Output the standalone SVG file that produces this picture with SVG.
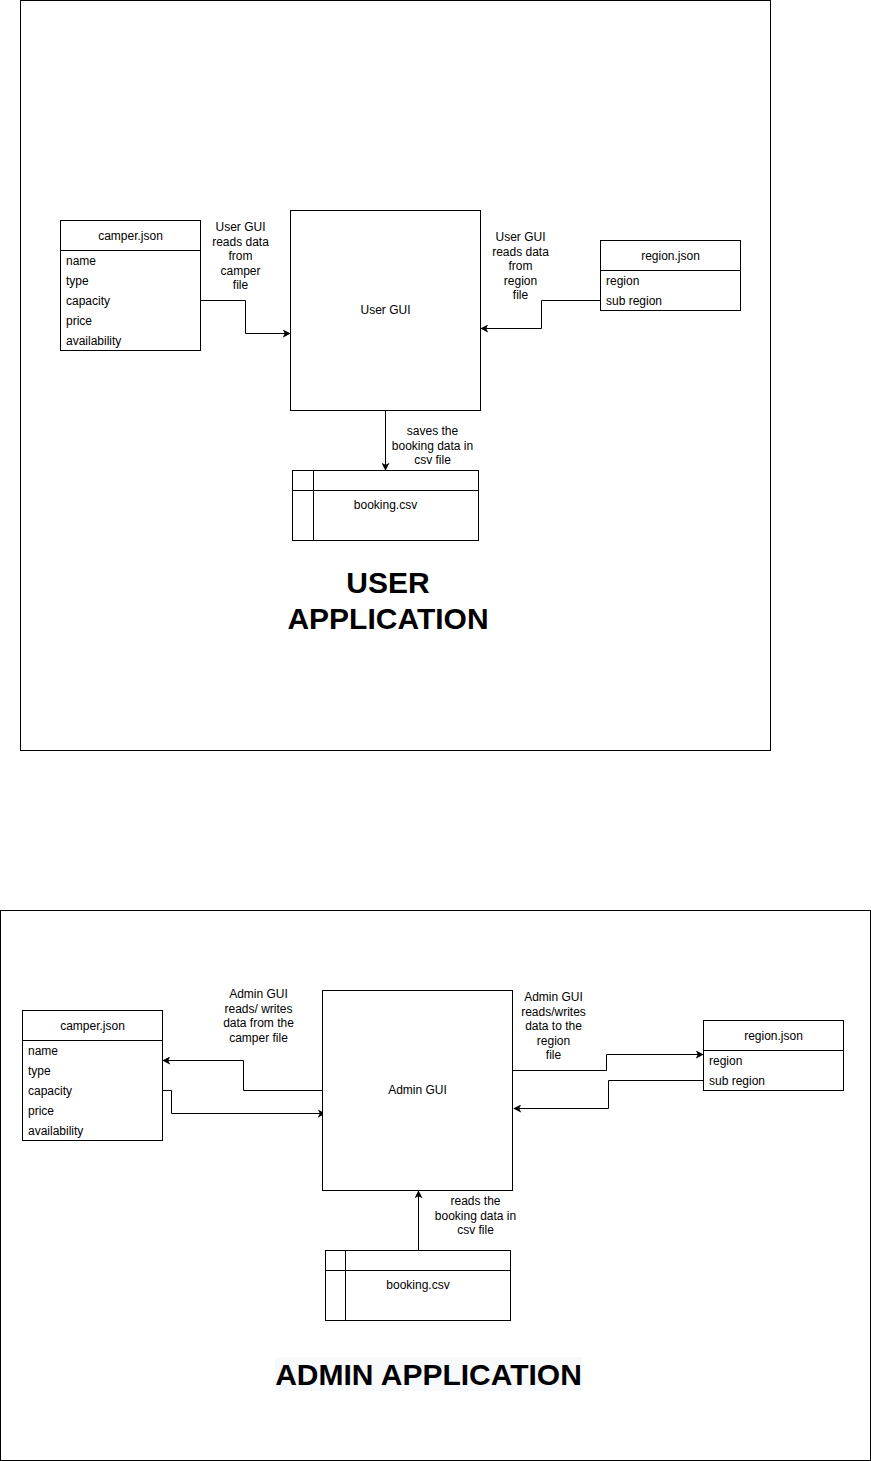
<svg xmlns="http://www.w3.org/2000/svg" width="871" height="1461" viewBox="0 0 871 1461">
<defs>
<style>
.box{fill:#fff;stroke:#000;stroke-width:1}
.ln{fill:none;stroke:#000;stroke-width:1}
.t{font-family:"Liberation Sans",Arial,sans-serif;font-size:12px;fill:#000}
.c{text-anchor:middle}
.big{font-family:"Liberation Sans",Arial,sans-serif;font-size:30px;font-weight:bold;text-anchor:middle;fill:#000}
</style>
<marker id="ah" viewBox="0 0 10 10" refX="9" refY="5" markerWidth="8" markerHeight="8" markerUnits="userSpaceOnUse" orient="auto">
<path d="M0,0 L10,5 L0,10 L2.5,5 Z" fill="#000"/>
</marker>
</defs>
<rect width="871" height="1461" fill="#fff"/>
<g id="frame-user"><rect class="box" x="20.5" y="0.5" width="750" height="750"/></g>
<g id="frame-admin"><rect class="box" x="0.5" y="910.5" width="870" height="550"/></g>

<g id="connectors">
<path class="ln" d="M200.5,300.5 H245.5 V333.5 H290" marker-end="url(#ah)"/>
<path class="ln" d="M600.5,300.5 H541.5 V328.5 H481" marker-end="url(#ah)"/>
<path class="ln" d="M385.5,410.5 V470" marker-end="url(#ah)"/>
<path class="ln" d="M322.5,1090.5 H243.5 V1060.5 H163" marker-end="url(#ah)"/>
<path class="ln" d="M162.5,1090.5 H171.5 V1113.5 H325" marker-end="url(#ah)"/>
<path class="ln" d="M512.5,1070.5 H606.5 V1054.5 H703" marker-end="url(#ah)"/>
<path class="ln" d="M703.5,1080.5 H608.5 V1108.5 H514" marker-end="url(#ah)"/>
<path class="ln" d="M418.5,1250.5 V1191" marker-end="url(#ah)"/>
</g>

<g id="camper-user">
<rect class="box" x="60.5" y="220.5" width="140" height="130"/>
<line class="ln" x1="60.5" y1="250.5" x2="200.5" y2="250.5"/>
<text class="t c" x="130.5" y="240">camper.json</text>
<text class="t" x="66" y="265">name</text>
<text class="t" x="66" y="285">type</text>
<text class="t" x="66" y="305">capacity</text>
<text class="t" x="66" y="325">price</text>
<text class="t" x="66" y="345">availability</text>
</g>
<g id="usergui">
<rect class="box" x="290.5" y="210.5" width="190" height="200"/>
<text class="t c" x="385.5" y="314">User GUI</text>
</g>
<g id="region-user">
<rect class="box" x="600.5" y="240.5" width="140" height="70"/>
<line class="ln" x1="600.5" y1="270.5" x2="740.5" y2="270.5"/>
<text class="t c" x="670.5" y="260">region.json</text>
<text class="t" x="606" y="285">region</text>
<text class="t" x="606" y="305">sub region</text>
</g>
<g id="booking-user">
<rect class="box" x="292.5" y="470.5" width="186" height="70"/>
<line class="ln" x1="292.5" y1="490.5" x2="478.5" y2="490.5"/>
<line class="ln" x1="313.5" y1="470.5" x2="313.5" y2="540.5"/>
<text class="t c" x="385.5" y="509">booking.csv</text>
</g>
<g id="labels-user">
<text class="t c" x="240.5" y="231">User GUI<tspan x="240.5" dy="14.5">reads data</tspan><tspan x="240.5" dy="14.5">from</tspan><tspan x="240.5" dy="14.5">camper</tspan><tspan x="240.5" dy="14.5">file</tspan></text>
<text class="t c" x="520.5" y="241">User GUI<tspan x="520.5" dy="14.5">reads data</tspan><tspan x="520.5" dy="14.5">from</tspan><tspan x="520.5" dy="14.5">region</tspan><tspan x="520.5" dy="14.5">file</tspan></text>
<text class="t c" x="432.5" y="435">saves the<tspan x="432.5" dy="14.5">booking data in</tspan><tspan x="432.5" dy="14.5">csv file</tspan></text>
<text class="big" x="388" y="593">USER<tspan x="388" dy="36">APPLICATION</tspan></text>
</g>

<g id="camper-admin">
<rect class="box" x="22.5" y="1010.5" width="140" height="130"/>
<line class="ln" x1="22.5" y1="1040.5" x2="162.5" y2="1040.5"/>
<text class="t c" x="92.5" y="1030">camper.json</text>
<text class="t" x="28" y="1055">name</text>
<text class="t" x="28" y="1075">type</text>
<text class="t" x="28" y="1095">capacity</text>
<text class="t" x="28" y="1115">price</text>
<text class="t" x="28" y="1135">availability</text>
</g>
<g id="admingui">
<rect class="box" x="322.5" y="990.5" width="190" height="200"/>
<text class="t c" x="417.5" y="1094">Admin GUI</text>
</g>
<g id="region-admin">
<rect class="box" x="703.5" y="1020.5" width="140" height="70"/>
<line class="ln" x1="703.5" y1="1050.5" x2="843.5" y2="1050.5"/>
<text class="t c" x="773.5" y="1040">region.json</text>
<text class="t" x="709" y="1065">region</text>
<text class="t" x="709" y="1085">sub region</text>
</g>
<g id="booking-admin">
<rect class="box" x="325.5" y="1250.5" width="185" height="70"/>
<line class="ln" x1="325.5" y1="1270.5" x2="510.5" y2="1270.5"/>
<line class="ln" x1="345.5" y1="1250.5" x2="345.5" y2="1320.5"/>
<text class="t c" x="418" y="1289">booking.csv</text>
</g>
<g id="labels-admin">
<text class="t c" x="258.5" y="998">Admin GUI<tspan x="258.5" dy="14.5">reads/ writes</tspan><tspan x="258.5" dy="14.5">data from the</tspan><tspan x="258.5" dy="14.5">camper file</tspan></text>
<text class="t c" x="553.5" y="1001">Admin GUI<tspan x="553.5" dy="14.5">reads/writes</tspan><tspan x="553.5" dy="14.5">data to the</tspan><tspan x="553.5" dy="14.5">region</tspan><tspan x="553.5" dy="14.5">file</tspan></text>
<text class="t c" x="475.5" y="1205">reads the<tspan x="475.5" dy="14.5">booking data in</tspan><tspan x="475.5" dy="14.5">csv file</tspan></text>
<rect x="275" y="1357" width="307" height="34" fill="#f8f9fa"/>
<text class="big" x="428.5" y="1385">ADMIN APPLICATION</text>
</g>
</svg>
